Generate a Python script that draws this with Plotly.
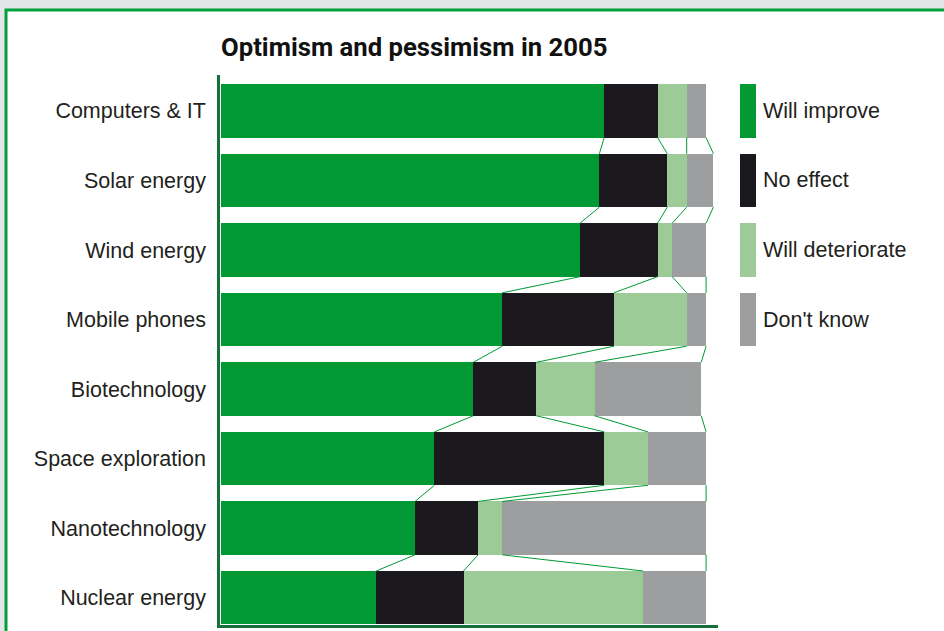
import plotly.graph_objects as go
import numpy as np

categories = ["Computers & IT", "Solar energy", "Wind energy", "Mobile phones",
              "Biotechnology", "Space exploration", "Nanotechnology", "Nuclear energy"]
series_names = ["Will improve", "No effect", "Will deteriorate", "Don't know"]
will_improve = [79, 78, 74, 58, 52, 44, 40, 32]
no_effect = [11, 14, 16, 23, 13, 35, 13, 18]
will_deteriorate = [6, 4, 3, 15, 12, 9, 5, 37]
dont_know = [4, 5.5, 7, 4, 22, 12, 42, 13]
title_text = "Optimism and pessimism in 2005"

colors = ["#009933", "#1b191d", "#9dcb98", "#9d9ea0"]
series = [will_improve, no_effect, will_deteriorate, dont_know]

W, H = 944, 631
ML, MR, MT, MB = 220, 10, 75, 6
PW = W - ML - MR
PH = H - MT - MB

def px_x(p):
    return (p - ML) / PW

def px_y(p):
    return (H - MB - p) / PH

bar_w = 0.768
ypos = np.arange(len(categories))

fig = go.Figure()
for name, vals, col in zip(series_names, series, colors):
    fig.add_trace(go.Bar(
        y=ypos, x=vals, orientation="h", name=name, width=bar_w,
        marker=dict(color=col, line=dict(width=0)),
        showlegend=False, hoverinfo="skip",
    ))

# connector lines between cumulative boundaries
cum = np.cumsum(np.array(series, dtype=float), axis=0)  # shape (4, n)
cx, cy = [], []
for i in range(len(categories) - 1):
    for k in range(len(series)):
        cx += [cum[k, i], cum[k, i + 1], None]
        cy += [i + bar_w / 2, i + 1 - bar_w / 2, None]
fig.add_trace(go.Scatter(x=cx, y=cy, mode="lines",
                         line=dict(color="#009933", width=1),
                         showlegend=False, hoverinfo="skip"))

# legend swatches on a secondary x axis, aligned with first rows
for j, (name, col) in enumerate(zip(series_names, colors)):
    fig.add_trace(go.Bar(
        y=[j], x=[1], orientation="h", width=bar_w, xaxis="x2", yaxis="y",
        marker=dict(color=col, line=dict(width=0)),
        showlegend=False, hoverinfo="skip",
    ))

label_font = dict(family="Liberation Sans, Arial, sans-serif", size=21.5, color="#231f20")

annotations = []
for j, name in enumerate(series_names):
    annotations.append(dict(
        x=1, y=j, xref="x2", yref="y", text=name, showarrow=False,
        xanchor="left", yanchor="middle", xshift=5, font=label_font,
    ))
annotations.append(dict(
    x=px_x(219), y=px_y(47), xref="paper", yref="paper", text="<b>" + title_text + "</b>",
    showarrow=False, xanchor="left", yanchor="middle",
    font=dict(family="Roboto, Liberation Sans, sans-serif", size=25.7, color="#111111"),
))

scale = 4.851
x0 = -1 / scale
main_w_px = 718 - ML
fig.update_layout(
    width=W, height=H,
    margin=dict(l=ML, r=MR, t=MT, b=MB, pad=0),
    paper_bgcolor="#e4e5e6",
    plot_bgcolor="rgba(0,0,0,0)",
    barmode="stack",
    bargap=0,
    xaxis=dict(domain=[0, main_w_px / PW], range=[x0, x0 + main_w_px / scale],
               showgrid=False, zeroline=False, showticklabels=False, ticks="",
               showline=True, linecolor="#17703a", linewidth=2.5, fixedrange=True),
    xaxis2=dict(domain=[px_x(740), px_x(756)], range=[0, 1], anchor="y",
                visible=False, fixedrange=True),
    yaxis=dict(range=[7.393, -0.516], tickmode="array", tickvals=list(ypos),
               ticktext=categories, tickfont=label_font, showgrid=False,
               zeroline=False, ticks="", ticklabelstandoff=7,
               showline=True, linecolor="#17703a", linewidth=2.5, fixedrange=True),
    shapes=[dict(type="rect", xref="paper", yref="paper", layer="below",
                 x0=px_x(6), x1=px_x(980), y0=px_y(680), y1=px_y(10),
                 fillcolor="#ffffff", line=dict(color="#00a03c", width=3))],
    annotations=annotations,
    showlegend=False,
)

fig.write_html("out.html")
